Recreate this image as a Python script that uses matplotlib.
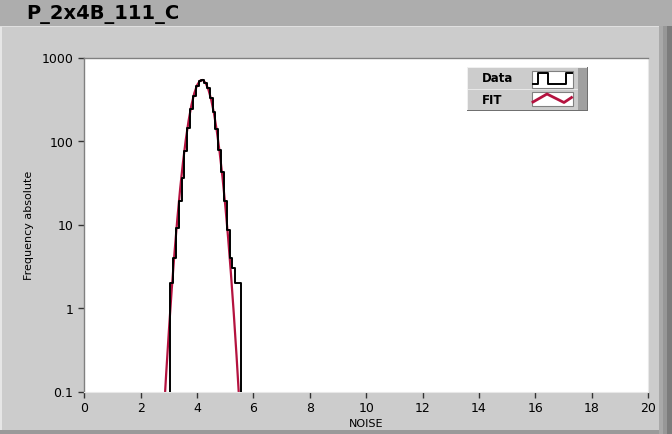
import numpy as np
import matplotlib
matplotlib.use("Agg")
import matplotlib.pyplot as plt
from matplotlib.patches import Rectangle
from matplotlib.lines import Line2D

# histogram bins (width 0.1), counts
bin_edges = [3.05, 3.15, 3.25, 3.35, 3.45, 3.55, 3.65, 3.75, 3.85, 3.95, 4.05,
             4.15, 4.25, 4.35, 4.45, 4.55, 4.65, 4.75, 4.85, 4.95, 5.05,
             5.15, 5.25, 5.35, 5.45, 5.55]
counts = [2, 4, 9, 19, 36, 75, 145, 245, 350, 450, 525,
          545, 495, 430, 325, 225, 140, 78, 42, 19, 8.5,
          4, 3, 2, 2]

# fit curve sampled at 0.1 steps
fit_x = [2.8, 2.9, 3.0, 3.1, 3.2, 3.3, 3.4, 3.5, 3.6, 3.7, 3.8, 3.9, 4.0, 4.1,
         4.2, 4.3, 4.4, 4.5, 4.6, 4.7, 4.8, 4.9, 5.0, 5.1, 5.2, 5.3, 5.4, 5.5]
fit_y = [0.042, 0.159, 0.545, 1.69, 4.71, 11.9, 27.2, 56.2, 105, 177, 271, 374, 467, 527,
         538, 496, 414, 312, 213, 131, 73.1, 36.8, 16.8, 6.92, 2.58, 0.867, 0.264, 0.0725]

title = "P_2x4B_111_C"
x_ticks = [0, 2, 4, 6, 8, 10, 12, 14, 16, 18, 20]
y_ticks = [0.1, 1, 10, 100, 1000]
y_labels = ["0.1", "1", "10", "100", "1000"]

W, H = 672, 435
fig = plt.figure(figsize=(W / 100, H / 100), dpi=100)
fig.patch.set_facecolor("#cccccc")


def px(x, y, w, h):
    # pixel box (top-left origin) -> figure fraction rectangle
    return (x / W, 1 - (y + h) / H, w / W, h / H)


def frect(x, y, w, h, color, z=0):
    r = Rectangle(px(x, y, w, h)[:2], w / W, h / H, transform=fig.transFigure,
                  facecolor=color, edgecolor="none", zorder=z)
    fig.patches.append(r)


# title band and frame
frect(0, 0, W, 27, "#adadad")
frect(0, 27, W, 1, "#e0e0e0")
frect(659, 27, 4, 408, "#a9a9a9")
frect(663, 27, 4, 408, "#979797")
frect(667, 27, 5, 408, "#7c7c7c")
frect(0, 431, 659, 4, "#9a9a9a")
frect(0, 28, 2, 403, "#e6e6e6")

fig.text(26 / W, 1 - 14 / H, title, fontsize=14, fontweight="bold",
         ha="left", va="center", color="black")

ax = fig.add_axes([84.4 / W, 1 - 392.5 / H, (648 - 84.4) / W, (392.5 - 58.5) / H])
ax.set_facecolor("white")

# histogram as a step outline, dropping to the bottom at both ends
edges = np.array(bin_edges)
vals = np.array(counts, dtype=float)
sx = np.concatenate([[edges[0]], np.repeat(edges, 2)[1:-1], [edges[-1]]])
sy = np.concatenate([[1e-3], np.repeat(vals, 2), [1e-3]])

ax.plot(fit_x, fit_y, color="#b4123f", lw=1.6, zorder=2)
ax.plot(sx, sy, color="black", lw=1.4, zorder=3)

ax.set_yscale("log")
ax.set_xlim(0, 20)
ax.set_ylim(0.1, 1000)
ax.set_xticks(x_ticks)
ax.set_xticklabels([str(t) for t in x_ticks])
ax.set_yticks(y_ticks)
ax.set_yticklabels(y_labels)
ax.minorticks_off()
ax.tick_params(axis="both", length=4, width=1, color="#333333", pad=3,
               labelsize=9, labelcolor="black")
ax.tick_params(axis="y", pad=4)
ax.set_xlabel("NOISE", fontsize=8, labelpad=3)
ax.set_ylabel("Frequency absolute", fontsize=8, labelpad=5)

for s in ["top", "left"]:
    ax.spines[s].set_color("#808080")
    ax.spines[s].set_linewidth(1)
for s in ["bottom", "right"]:
    ax.spines[s].set_color("#e8e8e8")
    ax.spines[s].set_linewidth(0.8)

# legend box (LabVIEW style plot legend)
frect(467, 68, 121, 44, "#cccccc", z=5)
frect(578, 68, 10, 44, "#a0a0a0", z=6)
frect(467, 68, 121, 1, "#f0f0f0", z=6)
frect(467, 68, 1, 44, "#f0f0f0", z=6)
frect(467, 111, 121, 1, "#707070", z=6)
frect(587, 68, 1, 44, "#707070", z=6)
frect(468, 90, 110, 1, "#e8e8e8", z=6)

for (bx, by, bw, bh) in [(531.5, 71.5, 41, 17), (531.5, 92.5, 41, 14.5)]:
    r = Rectangle(px(bx, by, bw, bh)[:2], bw / W, bh / H, transform=fig.transFigure,
                  facecolor="white", edgecolor="#808080", lw=0.8, zorder=7)
    fig.patches.append(r)

fig.text(482 / W, 1 - 79 / H, "Data", fontsize=8.5, fontweight="bold",
         ha="left", va="center", zorder=8)
fig.text(482 / W, 1 - 101 / H, "FIT", fontsize=8.5, fontweight="bold",
         ha="left", va="center", zorder=8)

ix = [533, 538, 538, 548, 548, 566, 566, 571.5]
iy = [85, 85, 73.5, 73.5, 85, 85, 73.5, 73.5]
fig.lines.append(Line2D([v / W for v in ix], [1 - v / H for v in iy],
                        transform=fig.transFigure, color="black", lw=1.4, zorder=9))
fx = [533, 547, 564, 571.5]
fy = [103, 95, 103.5, 98.5]
fig.lines.append(Line2D([v / W for v in fx], [1 - v / H for v in fy],
                        transform=fig.transFigure, color="#b4123f", lw=2, zorder=9))

fig.savefig("out.png", dpi=100, facecolor=fig.get_facecolor())
